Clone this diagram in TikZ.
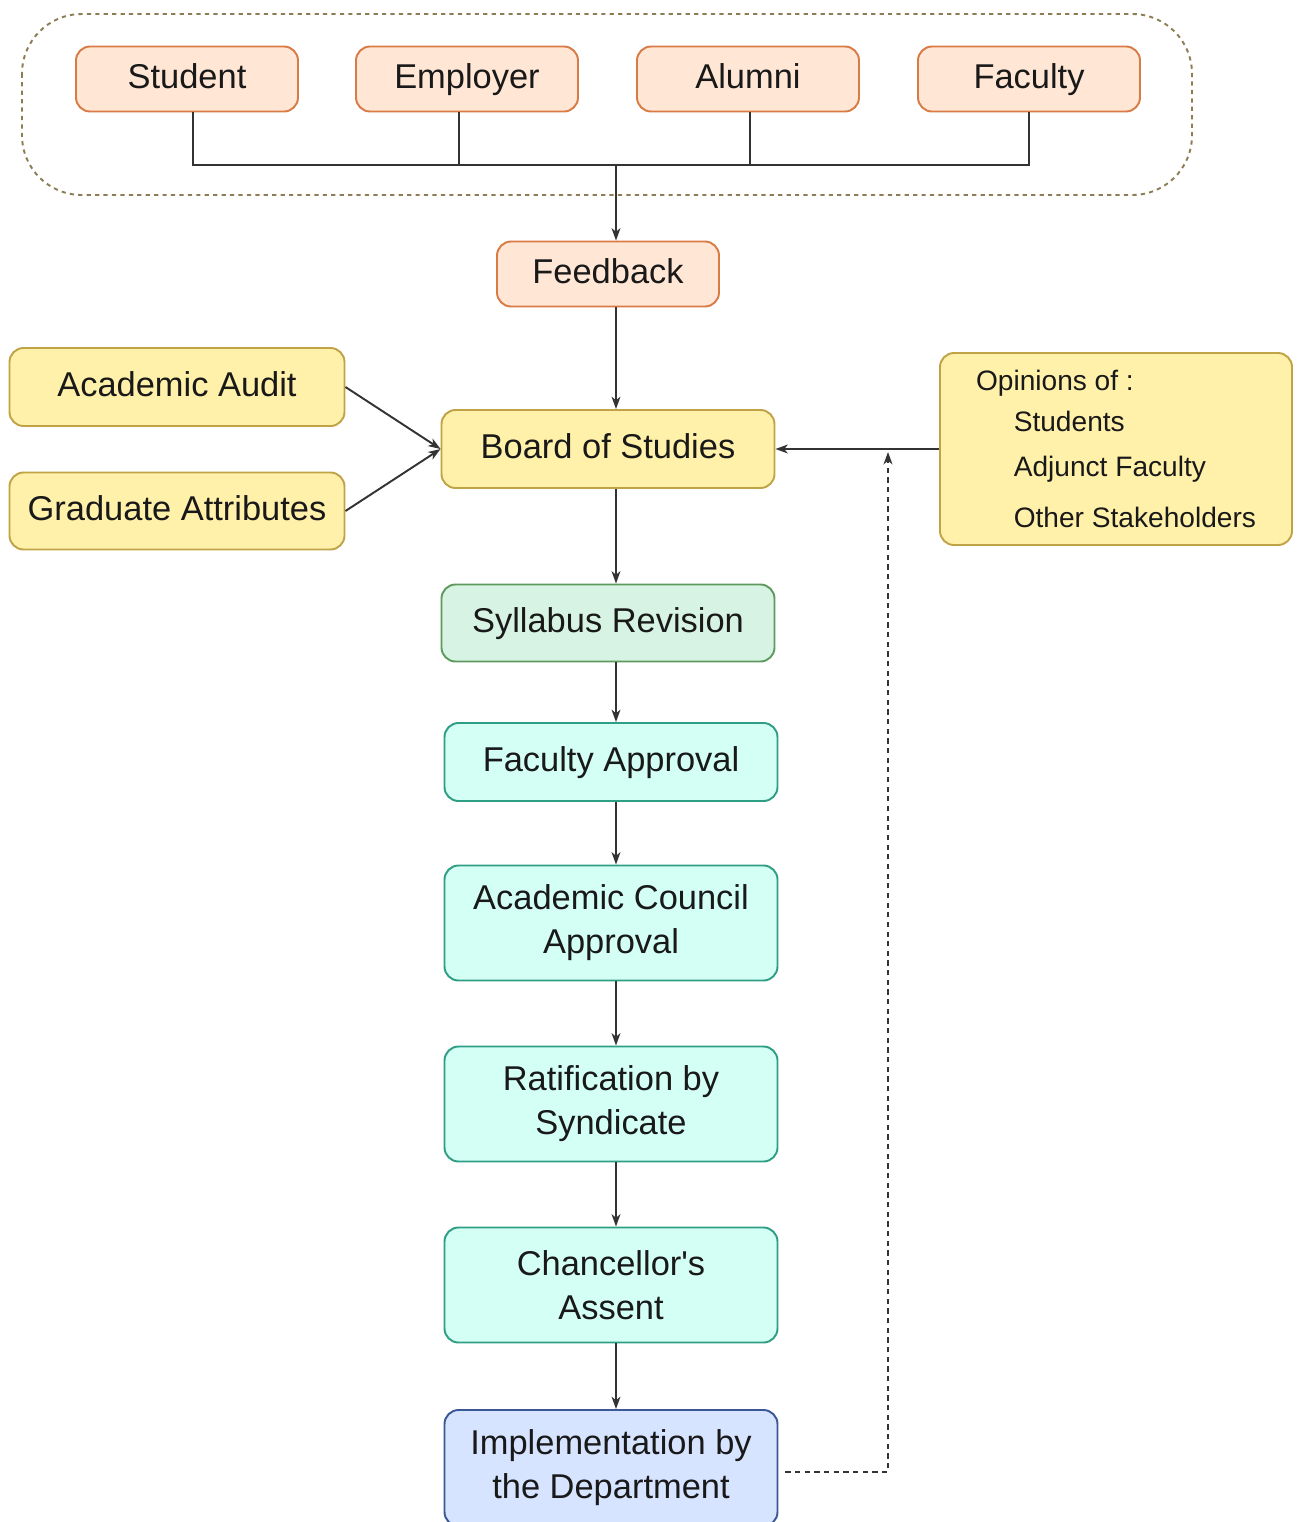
\documentclass[tikz,border=0pt]{standalone}
\usepackage{fontspec}
\setmainfont{Liberation Sans}[Ligatures=TeXOff]
\usetikzlibrary{arrows.meta}
\definecolor{orangefill}{HTML}{FFE6D5}
\definecolor{orangeline}{HTML}{D97B45}
\definecolor{yellowfill}{HTML}{FFF1AA}
\definecolor{yellowline}{HTML}{BFA346}
\definecolor{greenfill}{HTML}{D7F3E3}
\definecolor{greenline}{HTML}{5E9A5E}
\definecolor{tealfill}{HTML}{D4FFF4}
\definecolor{tealline}{HTML}{2E9E84}
\definecolor{bluefill}{HTML}{D6E4FF}
\definecolor{blueline}{HTML}{3A5896}
\definecolor{frameline}{HTML}{8C7D55}
\definecolor{wire}{HTML}{333333}
\begin{document}
\begin{tikzpicture}[x=0.02cm, y=-0.02cm,
		box/.style = {rectangle, rounded corners=8pt, line width=1.1pt, align=center,
			text=black!90, font=\fontsize{19.6}{25}\selectfont, inner sep=0pt},
		single/.style = {text height=14.5pt, text depth=4pt},
		source/.style = {box, single, fill=orangefill, draw=orangeline, minimum width=222*0.02cm, minimum height=65*0.02cm},
		input/.style = {box, single, fill=yellowfill, draw=yellowline, minimum width=335*0.02cm, minimum height=78*0.02cm},
		revise/.style = {box, single, fill=greenfill, draw=greenline, minimum width=333*0.02cm, minimum height=77*0.02cm},
		approve/.style = {box, fill=tealfill, draw=tealline, minimum width=333*0.02cm, minimum height=78*0.02cm},
		tall/.style = {minimum height=115*0.02cm},
		final/.style = {box, fill=bluefill, draw=blueline, minimum width=333*0.02cm, minimum height=116*0.02cm},
		link/.style = {draw=wire, line width=1.1pt},
		arrow/.style = {link, -{Stealth[length=7pt, width=5pt, inset=2pt]}},
		back/.style = {arrow, dash pattern=on 3pt off 2.5pt}]
		\useasboundingbox (0,0) rectangle (1300,1522);
		
		% top
		\draw [frameline, line width=1.1pt, dash pattern=on 2.4pt off 2.4pt, rounded corners=34pt] (22,14) rectangle (1192,195);
		\node [source] (student) at (187,79) {Student};
		\node [source] (employer) at (467,79) {Employer};
		\node [source] (alumni) at (748,79) {Alumni};
		\node [source] (faculty) at (1029,79) {Faculty};
		\coordinate (bus) at (616,165);
		\draw [link] ([xshift=6*0.02cm]student.south) |- (faculty.south |- bus) -- (faculty.south);
		\draw [link] ([xshift=-8*0.02cm]employer.south) -- ([xshift=-8*0.02cm]employer.south |- bus)
			([xshift=2*0.02cm]alumni.south) -- ([xshift=2*0.02cm]alumni.south |- bus);
		\node [source] (feedback) at (608,274) {Feedback};
		\draw [arrow] (bus) -- (feedback.north -| bus);
		
		% board
		\node [input, minimum width=333*0.02cm] (bos) at (608,449) {Board of Studies};
		\node [input] (audit) at (177,387) {Academic Audit};
		\node [input, minimum height=77*0.02cm] (grad) at (177,511) {Graduate Attributes};
		\node [box, fill=yellowfill, draw=yellowline, minimum width=352*0.02cm, minimum height=192*0.02cm,
			align=left, font=\fontsize{16}{23.2}\selectfont] (opin) at (1116,449)
			{Opinions of :\\ \hspace*{21.5pt}Students\\[2.3pt] \hspace*{21.5pt}Adjunct Faculty\\[5.7pt] \hspace*{21.5pt}Other Stakeholders};
		\draw [arrow] (feedback.south -| bus) -- (bos.north -| bus);
		\draw [arrow] (audit.east) -- (bos.west);
		\draw [arrow] (grad.east) -- (bos.west);
		\draw [arrow] (opin.west) -- (bos.east);
		
		% approvals
		\node [revise] (syllabus) at (608,623) {Syllabus Revision};
		\node [approve, single] (facapp) at (611,762) {Faculty Approval};
		\node [approve, tall] (council) at (611,923) {Academic Council\\Approval};
		\node [approve, tall] (syndicate) at (611,1104) {Ratification by\\Syndicate};
		\node [approve, tall] (assent) at (611,1285) {Chancellor's\\Assent};
		\node [final] (implement) at (611,1468) {Implementation by\\the Department};
		\draw [arrow] (bos.south -| bus) -- (syllabus.north -| bus);
		\draw [arrow] (syllabus.south -| bus) -- (facapp.north -| bus);
		\draw [arrow] (facapp.south -| bus) -- (council.north -| bus);
		\draw [arrow] (council.south -| bus) -- (syndicate.north -| bus);
		\draw [arrow] (syndicate.south -| bus) -- (assent.north -| bus);
		\draw [arrow] (assent.south -| bus) -- (implement.north -| bus);
		
		% loop back
		\coordinate (loop) at (888,1472);
		\draw [back] ([xshift=7*0.02cm]implement.east |- loop) -- (loop) -- ([yshift=-3*0.02cm]loop |- opin.west);
	\end{tikzpicture}
\end{document}
